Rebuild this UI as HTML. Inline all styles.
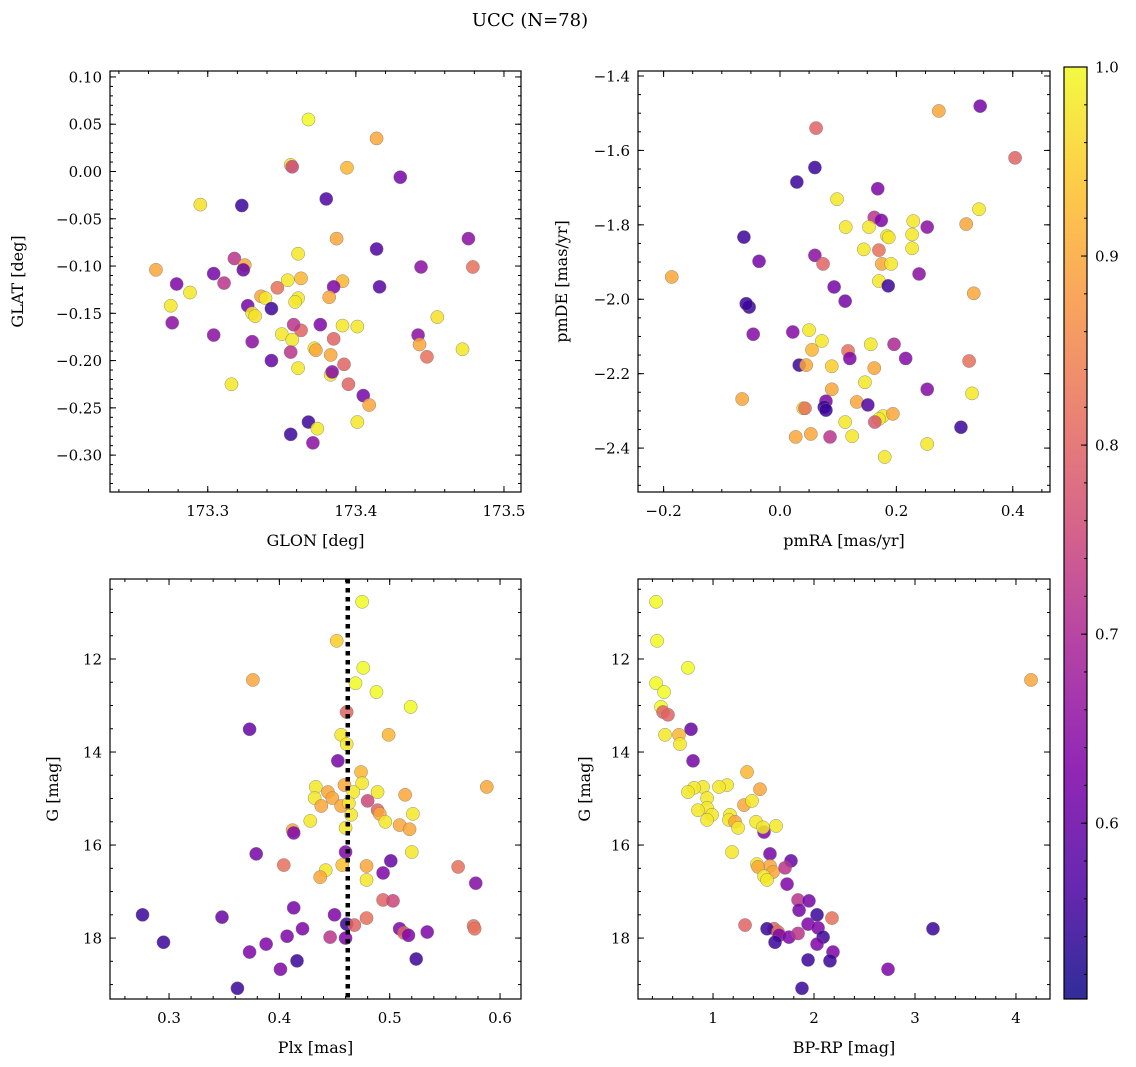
<!DOCTYPE html>
<html><head><meta charset="utf-8">
<style>
html,body{margin:0;padding:0;background:#fff;}
svg{display:block;font-family:"DejaVu Serif","Liberation Serif",serif;}
</style></head>
<body>
<svg id="fig" width="1136" height="1067" viewBox="0 0 1136 1067" xmlns="http://www.w3.org/2000/svg">
<defs>
<linearGradient id="cbgrad" x1="0" y1="1" x2="0" y2="0">
<stop offset="0" stop-color="#0d0887"/><stop offset="0.12" stop-color="#4c02a1"/><stop offset="0.25" stop-color="#7e03a8"/><stop offset="0.38" stop-color="#a82296"/><stop offset="0.5" stop-color="#cc4778"/><stop offset="0.62" stop-color="#e56b5d"/><stop offset="0.75" stop-color="#f89540"/><stop offset="0.88" stop-color="#fdc527"/><stop offset="1" stop-color="#f0f921"/>
</linearGradient>
</defs>
<text x="530" y="26" font-size="18" text-anchor="middle">UCC (N=78)</text>
</svg>
<script>
// Panel 1: GLON vs GLAT
const glon = [173.368,173.414,173.356,173.357,173.394,173.430,173.295,173.323,173.380,173.387,173.476,173.414,173.361,173.318,173.325,173.324,173.265,173.479,173.444,173.279,173.304,173.311,173.288,173.275,173.276,173.354,173.363,173.391,173.416,173.385,173.347,173.336,173.339,173.361,173.382,173.327,173.343,173.330,173.455,173.304,173.330,173.350,173.363,173.376,173.391,173.401,173.442,173.357,173.385,173.443,173.356,173.372,173.383,173.448,173.472,173.343,173.392,173.361,173.383,173.384,173.316,173.395,173.405,173.409,173.401,173.368,173.374,173.356,173.371,173.373,173.332,173.359,173.358];
const glat = [0.055,0.035,0.007,0.005,0.004,-0.006,-0.035,-0.036,-0.029,-0.071,-0.071,-0.082,-0.087,-0.092,-0.099,-0.104,-0.104,-0.101,-0.101,-0.119,-0.108,-0.118,-0.128,-0.142,-0.160,-0.115,-0.113,-0.116,-0.122,-0.122,-0.123,-0.132,-0.134,-0.134,-0.133,-0.142,-0.145,-0.150,-0.154,-0.173,-0.180,-0.172,-0.168,-0.162,-0.163,-0.164,-0.173,-0.178,-0.177,-0.183,-0.191,-0.187,-0.194,-0.196,-0.188,-0.200,-0.204,-0.208,-0.215,-0.212,-0.225,-0.225,-0.237,-0.247,-0.265,-0.265,-0.272,-0.278,-0.287,-0.189,-0.153,-0.138,-0.162];
const prob1 = [1.0,0.9,0.97,0.75,0.92,0.62,0.97,0.55,0.57,0.9,0.65,0.57,0.98,0.72,0.9,0.6,0.9,0.82,0.65,0.63,0.62,0.72,0.98,0.98,0.65,0.98,0.92,0.92,0.58,0.63,0.82,0.9,0.98,0.98,0.9,0.62,0.55,0.98,0.97,0.65,0.65,0.98,0.8,0.63,0.98,0.98,0.65,0.98,0.8,0.9,0.72,0.98,0.9,0.82,0.98,0.6,0.8,0.98,0.98,0.64,0.98,0.8,0.62,0.9,0.98,0.55,0.98,0.55,0.65,0.9,0.97,0.98,0.72];
// Panel 2: pmRA vs pmDE
const pmra = [0.344,0.273,0.062,0.404,0.060,0.168,0.029,0.098,0.342,-0.062,-0.036,-0.186,0.229,0.320,0.253,0.162,0.174,0.113,0.153,0.184,0.227,0.227,0.144,0.060,0.074,0.170,0.175,0.191,0.170,0.093,0.186,0.239,0.333,-0.053,0.112,-0.046,0.022,0.050,0.072,0.055,0.117,0.120,0.196,0.156,0.216,0.033,0.045,0.089,0.162,0.325,0.146,0.089,0.253,0.330,-0.065,0.079,0.132,0.151,0.040,0.076,0.079,0.043,0.177,0.194,0.170,0.163,0.112,0.124,0.027,0.053,0.086,0.253,0.311,0.180,-0.058,0.187];
const pmde = [-1.481,-1.494,-1.540,-1.620,-1.646,-1.703,-1.685,-1.731,-1.758,-1.833,-1.898,-1.940,-1.790,-1.798,-1.806,-1.780,-1.788,-1.806,-1.806,-1.830,-1.826,-1.863,-1.866,-1.882,-1.905,-1.868,-1.905,-1.905,-1.951,-1.967,-1.964,-1.932,-1.984,-2.021,-2.005,-2.094,-2.088,-2.083,-2.112,-2.136,-2.139,-2.159,-2.121,-2.121,-2.159,-2.177,-2.177,-2.180,-2.185,-2.166,-2.223,-2.242,-2.242,-2.253,-2.268,-2.274,-2.276,-2.284,-2.293,-2.290,-2.298,-2.293,-2.314,-2.308,-2.322,-2.330,-2.330,-2.368,-2.370,-2.362,-2.370,-2.389,-2.344,-2.424,-2.012,-1.834];
const prob2 = [0.62,0.9,0.8,0.8,0.55,0.63,0.55,0.98,0.98,0.55,0.62,0.9,0.98,0.9,0.65,0.72,0.63,0.98,0.98,0.98,0.98,0.98,0.98,0.65,0.8,0.82,0.9,0.98,0.98,0.62,0.55,0.65,0.9,0.55,0.62,0.64,0.64,0.98,0.98,0.92,0.82,0.63,0.7,0.98,0.64,0.55,0.9,0.95,0.9,0.82,0.98,0.9,0.64,0.98,0.9,0.63,0.9,0.57,0.98,0.55,0.55,0.82,0.98,0.9,0.98,0.78,0.98,0.98,0.9,0.9,0.72,0.98,0.55,0.98,0.55,0.98];
// Panel 3: Plx vs G
const plx = [0.475,0.452,0.476,0.376,0.469,0.488,0.519,0.461,0.373,0.456,0.499,0.461,0.453,0.474,0.475,0.459,0.433,0.588,0.444,0.448,0.467,0.489,0.514,0.432,0.438,0.480,0.456,0.489,0.491,0.521,0.428,0.465,0.496,0.509,0.518,0.412,0.413,0.460,0.379,0.460,0.520,0.501,0.457,0.479,0.404,0.442,0.562,0.494,0.437,0.479,0.578,0.494,0.503,0.413,0.276,0.348,0.450,0.479,0.461,0.468,0.576,0.577,0.509,0.421,0.534,0.513,0.517,0.407,0.446,0.460,0.295,0.388,0.373,0.416,0.524,0.401,0.362,0.463];
const gmag3 = [10.77,11.61,12.19,12.45,12.52,12.71,13.03,13.14,13.51,13.63,13.63,13.83,14.19,14.43,14.67,14.71,14.75,14.75,14.86,14.99,14.86,14.86,14.92,14.99,15.16,15.05,15.16,15.25,15.33,15.33,15.48,15.35,15.50,15.57,15.66,15.68,15.74,15.63,16.19,16.15,16.15,16.34,16.43,16.45,16.43,16.54,16.47,16.60,16.69,16.75,16.82,17.18,17.20,17.35,17.50,17.55,17.50,17.57,17.70,17.72,17.74,17.80,17.80,17.80,17.87,17.89,17.94,17.96,17.98,18.00,18.09,18.13,18.30,18.49,18.45,18.67,19.08,15.10];
const prob3 = [1.0,0.95,1.0,0.9,1.0,1.0,1.0,0.8,0.6,0.98,0.92,0.98,0.62,0.92,0.98,0.9,0.98,0.9,0.9,0.9,0.98,0.98,0.9,0.98,0.9,0.75,0.9,0.8,0.9,0.98,0.98,0.98,0.98,0.9,0.9,0.9,0.63,0.98,0.62,0.63,0.98,0.6,0.93,0.9,0.82,0.98,0.82,0.63,0.9,0.98,0.64,0.8,0.75,0.62,0.55,0.6,0.63,0.82,0.55,0.8,0.82,0.82,0.63,0.63,0.63,0.8,0.63,0.63,0.72,0.63,0.55,0.63,0.63,0.55,0.55,0.63,0.55,0.98];
// Panel 4: BP-RP vs G
const bprp = [0.436,0.446,0.752,0.436,0.515,4.149,0.485,0.505,0.554,0.782,0.525,0.663,0.673,0.802,1.337,1.139,1.059,0.901,0.812,0.752,1.465,0.941,1.307,1.386,0.941,0.990,0.941,1.168,1.158,1.218,1.248,1.426,1.505,1.624,1.188,1.564,1.772,1.435,1.564,1.446,1.594,1.505,1.535,1.713,1.733,1.842,1.950,1.852,2.030,1.317,1.604,1.535,1.941,2.178,2.040,1.644,1.654,1.752,2.090,1.614,2.030,2.188,2.158,1.941,3.178,2.733,1.881,1.842,0.851,1.495];
const gmag4 = [10.77,11.61,12.19,12.52,12.71,12.45,13.03,13.14,13.20,13.51,13.63,13.63,13.83,14.19,14.43,14.71,14.75,14.75,14.77,14.86,14.80,14.99,15.14,15.05,15.20,15.35,15.46,15.35,15.46,15.50,15.63,15.50,15.72,15.59,16.15,16.19,16.34,16.41,16.45,16.47,16.58,16.67,16.75,16.49,16.84,17.18,17.20,17.40,17.50,17.72,17.80,17.80,17.70,17.57,17.78,17.87,17.94,17.98,17.98,18.09,18.13,18.30,18.49,18.47,17.80,18.67,19.08,17.90,15.25,15.62];
const prob4 = [1.0,1.0,1.0,1.0,1.0,0.9,1.0,0.8,0.8,0.6,0.98,0.92,0.98,0.62,0.92,0.98,0.98,0.98,0.98,0.98,0.9,0.98,0.9,0.98,0.98,0.98,0.98,0.98,0.98,0.9,0.98,0.98,0.63,0.98,0.98,0.62,0.6,0.98,0.9,0.9,0.9,0.98,0.98,0.72,0.63,0.72,0.62,0.62,0.55,0.8,0.8,0.55,0.63,0.82,0.63,0.82,0.63,0.63,0.55,0.55,0.63,0.63,0.55,0.55,0.55,0.63,0.55,0.72,0.98,0.98];
// Axis tick definitions
const p1xTicks = [173.3,173.4,173.5], p1xLabels = ["173.3","173.4","173.5"];
const p1yTicks = [0.10,0.05,0.00,-0.05,-0.10,-0.15,-0.20,-0.25,-0.30];
const p2xTicks = [-0.2,0.0,0.2,0.4];
const p2yTicks = [-1.4,-1.6,-1.8,-2.0,-2.2,-2.4];
const p3xTicks = [0.3,0.4,0.5,0.6];
const gTicks = [12,14,16,18];
const p4xTicks = [1,2,3,4];
const cbTicks = [0.6,0.7,0.8,0.9,1.0];
const plxLine = 0.462;

const NS="http://www.w3.org/2000/svg";
const svg=document.getElementById('fig');
function mk(tag,attrs,parent){const e=document.createElementNS(NS,tag);for(const k in attrs)e.setAttribute(k,attrs[k]);(parent||svg).appendChild(e);return e;}
const cmapStops=[[0,[13,8,135]],[0.12,[76,2,161]],[0.25,[126,3,168]],[0.38,[168,34,150]],[0.5,[204,71,120]],[0.62,[229,107,93]],[0.75,[248,149,64]],[0.88,[253,197,39]],[1,[240,249,33]]];
const PMIN=0.507,PMAX=1.0;
function plasma(p){let t=(p-PMIN)/(PMAX-PMIN);t=Math.max(0,Math.min(1,t));
 for(let i=1;i<cmapStops.length;i++){if(t<=cmapStops[i][0]){const a=cmapStops[i-1],b=cmapStops[i];const f=(t-a[0])/(b[0]-a[0]);const c=a[1].map((v,j)=>Math.round(v+(b[1][j]-v)*f));return `rgb(${c[0]},${c[1]},${c[2]})`;}}
 return 'rgb(240,249,33)';}
function fmt(v,d){const s=Math.abs(v).toFixed(d);return (v<-1e-9?'\u2212':'')+s;}

function panel(o){
 const {name,L,R,T,B,xmin,xmax,ymin,ymax}=o;
 const sx=v=>L+(v-xmin)/(xmax-xmin)*(R-L);
 const sy=v=>B-(v-ymin)/(ymax-ymin)*(B-T);
 const g=mk('g',{});
 
 
 const clipId=name+'-clip';
 const cp=mk('clipPath',{id:clipId},g);mk('rect',{x:L,y:T,width:R-L,height:B-T},cp);
 const pts=mk('g',{'clip-path':`url(#${clipId})`},g);
 
 
 for(let i=0;i<o.xs.length;i++){
  const c=mk('circle',{cx:sx(o.xs[i]),cy:sy(o.ys[i]),r:6.6,fill:plasma(o.ps[i]),'fill-opacity':0.85,stroke:'#777','stroke-width':0.5,'stroke-opacity':0.8},pts);
  
  
 }
 if(o.vline!==undefined){
  const vl=mk('line',{x1:sx(o.vline),x2:sx(o.vline),y1:T,y2:B,stroke:'#000','stroke-width':4.5,'stroke-dasharray':'4.5 4.5'},g);
  
  
 }
 mk('rect',{x:L,y:T,width:R-L,height:B-T,fill:'none',stroke:'#000','stroke-width':1.2},g);
 const tk=mk('g',{stroke:'#000','stroke-width':1},g);
 o.xt.forEach((v,i)=>{const x=sx(v);
  mk('line',{x1:x,x2:x,y1:B,y2:B-6},tk);mk('line',{x1:x,x2:x,y1:T,y2:T+6},tk);
  const t=mk('text',{x:x,y:B+24,'font-size':15,'text-anchor':'middle'},g);t.textContent=o.xl?o.xl[i]:fmt(v,o.xd);
  
  });
 for(let v=Math.ceil(xmin/o.xm)*o.xm;v<=xmax;v+=o.xm){const x=sx(v);mk('line',{x1:x,x2:x,y1:B,y2:B-3},tk);mk('line',{x1:x,x2:x,y1:T,y2:T+3},tk);}
 o.yt.forEach(v=>{const y=sy(v);
  mk('line',{x1:L,x2:L+6,y1:y,y2:y},tk);mk('line',{x1:R,x2:R-6,y1:y,y2:y},tk);
  const t=mk('text',{x:L-8,y:y+5.5,'font-size':15,'text-anchor':'end'},g);t.textContent=o.pos?fmt(Math.abs(v),o.yd):fmt(v,o.yd);
  
  });
 for(let v=Math.ceil(ymin/o.ym)*o.ym;v<=ymax;v+=o.ym){const y=sy(v);mk('line',{x1:L,x2:L+3,y1:y,y2:y},tk);mk('line',{x1:R,x2:R-3,y1:y,y2:y},tk);}
 const xl=mk('text',{x:(L+R)/2,y:B+54,'font-size':16,'text-anchor':'middle'},g);xl.textContent=o.xlabel;
 
 
 const yl=mk('text',{x:0,y:0,'font-size':16,'text-anchor':'middle',transform:`translate(${o.ylx},${(T+B)/2}) rotate(-90)`},g);yl.textContent=o.ylabel;
 
 
}
panel({name:'glon-glat',L:110,R:521,T:71,B:492,xmin:173.234,xmax:173.5115,ymin:-0.339,ymax:0.1063,xs:glon,ys:glat,ps:prob1,xt:p1xTicks,xl:p1xLabels,xm:0.02,yt:p1yTicks,yd:2,ym:0.01,xlabel:'GLON [deg]',ylabel:'GLAT [deg]',ylx:23});
panel({name:'pm',L:638,R:1050,T:71,B:492,xmin:-0.244,xmax:0.464,ymin:-2.518,ymax:-1.3866,xs:pmra,ys:pmde,ps:prob2,xt:p2xTicks,xd:1,xm:0.05,yt:p2yTicks,yd:1,ym:0.05,xlabel:'pmRA [mas/yr]',ylabel:'pmDE [mas/yr]',ylx:567});
panel({name:'plx-g',L:110,R:521,T:579,B:999,xmin:0.2465,xmax:0.619,ymin:-19.31,ymax:-10.28,xs:plx,ys:gmag3.map(v=>-v),ps:prob3,xt:p3xTicks,xd:1,xm:0.02,yt:gTicks.map(v=>-v),yd:0,ym:0.5,xlabel:'Plx [mas]',ylabel:'G [mag]',ylx:58,vline:plxLine,pos:true});
panel({name:'cmd',L:638,R:1050,T:579,B:999,xmin:0.257,xmax:4.337,ymin:-19.31,ymax:-10.28,xs:bprp,ys:gmag4.map(v=>-v),ps:prob4,xt:p4xTicks,xd:0,xm:0.2,yt:gTicks.map(v=>-v),yd:0,ym:0.5,xlabel:'BP-RP [mag]',ylabel:'G [mag]',ylx:590,pos:true});
// colorbar
const cb=mk('g',{});


const CT=67,CB=999,CL=1064,CR=1087;
mk('rect',{x:CL,y:CT,width:CR-CL,height:CB-CT,fill:'url(#cbgrad)','fill-opacity':0.85},cb);
mk('rect',{x:CL,y:CT,width:CR-CL,height:CB-CT,fill:'none',stroke:'#000','stroke-width':1.2},cb);
const cy=v=>CB-(v-PMIN)/(PMAX-PMIN)*(CB-CT);
cbTicks.forEach(v=>{const y=cy(v);mk('line',{x1:CR,x2:CR-6,y1:y,y2:y,stroke:'#000'},cb);
 const t=mk('text',{x:CR+8,y:y+5.5,'font-size':15},cb);t.textContent=v.toFixed(1);
 
 });
for(let v=0.52;v<=1.0001;v+=0.02){const y=cy(v);mk('line',{x1:CR,x2:CR-3,y1:y,y2:y,stroke:'#000'},cb);}
</script>
</body></html>
